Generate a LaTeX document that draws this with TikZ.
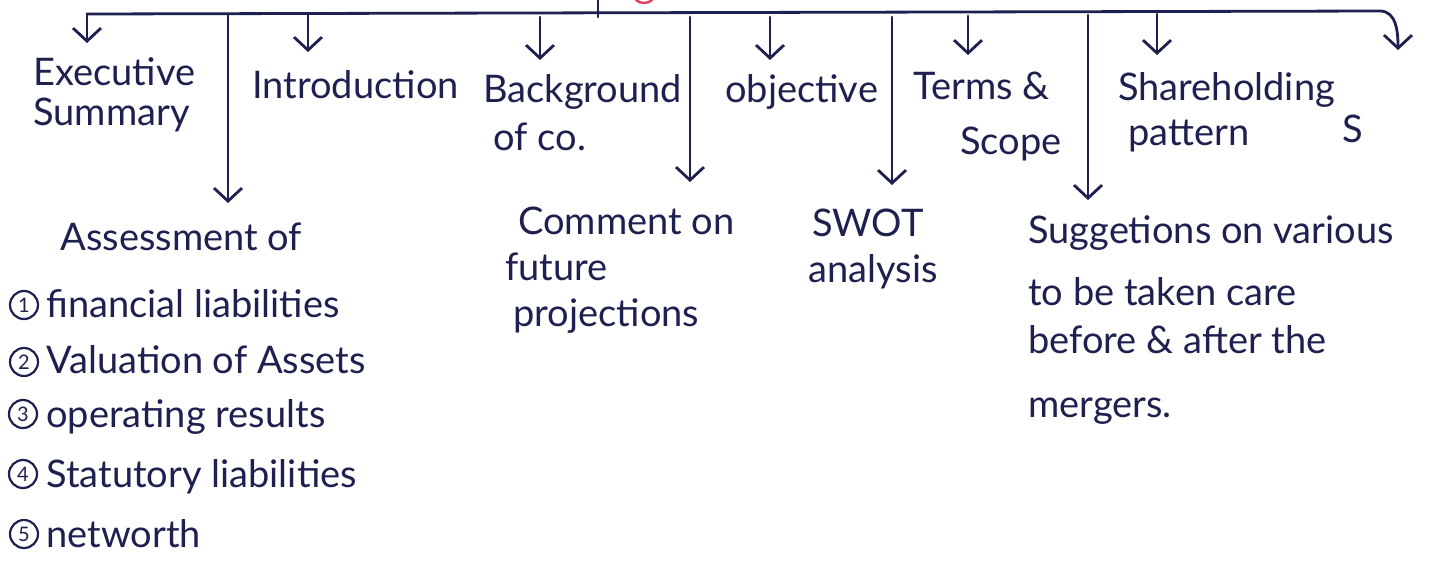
\documentclass[tikz,border=0pt]{standalone}
\usepackage{fontspec}
\setmainfont{Lato}
\usetikzlibrary{arrows.meta}
\definecolor{ink}{HTML}{1E2050}
\definecolor{redink}{HTML}{E0405A}
\begin{document}
\begin{tikzpicture}[x=0.5pt,y=-0.5pt,
  inkline/.style={draw=ink,line width=1.4pt,line cap=round,line join=round},
  arr/.style={inkline,-{Straight Barb[length=6.5pt,width=14pt]}},
  lbl/.style={anchor=north west,inner sep=0pt,align=left,text=ink,font=\fontsize{19}{23}\selectfont},
  num/.style={draw=ink,circle,line width=1.1pt,minimum size=14pt,inner sep=0pt,text=ink,font=\fontsize{10}{11}\selectfont}
]
\fill[white] (0,0) rectangle (1455,579);
\useasboundingbox (0,0) rectangle (1455,579);

% labels
\node[lbl] (exec) at (33,57) {Executive\\[-3pt]Summary};
\node[lbl] (intro) at (252,70) {Introduction};
\node[lbl] (bg) at (483,74) {Background\\[1pt]\hspace*{5pt}of co.};
\node[lbl] (obj) at (725,74) {objective};
\node[lbl] (terms) at (913,72) {Terms \&\\[4.5pt]\hspace*{23.5pt}Scope};
\node[lbl] (share) at (1118,72) {Shareholding\\[-0.5pt]\hspace*{5pt}pattern};
\node[lbl,anchor=base west] (s) at (1342,142) {S};
\node[lbl] (assess) at (46,222) {\hspace*{7pt}Assessment of\\[10.5pt]financial liabilities\\[5pt]Valuation of Assets\\[4pt]operating results\\[7pt]Statutory liabilities\\[7pt]networth};
\node[lbl] (comment) at (505,207) {\hspace*{6.5pt}Comment on\\future\\\hspace*{4pt}projections};
\node[lbl] (swot) at (808,209) {\hspace*{2pt}SWOT\\analysis};
\node[lbl] (sugg) at (1028,215) {Suggetions on various\\[8pt]to be taken care\\[1pt]before \& after the\\[9pt]mergers.};

% circled numbers
\node[num] (c1) at (24,305) {1};
\node[num] (c2) at (24,362) {2};
\node[num] (c3) at (23,414) {3};
\node[num] (c4) at (23,474) {4};
\node[num] (c5) at (24,534) {5};

% bus
\coordinate (busL) at (87,14);
\coordinate (busR) at (1380,11);
\coordinate (endR) at (1398,50);
\coordinate (stemT) at (598,0);
\coordinate (stemB) at (598,17);
\coordinate (t2) at (228,15);
\coordinate (t3) at (308,15);
\coordinate (t4) at (540,17);
\coordinate (t5) at (690,17);
\coordinate (t6) at (770,17);
\coordinate (t7) at (892,17);
\coordinate (t8) at (968,16);
\coordinate (t9) at (1088,15);
\coordinate (t10) at (1157,14);

\draw[arr] (busL) -- (busR) to[out=0,in=90] (endR);
\draw[inkline] (stemT) -- (stemB);
\draw[redink,line width=1.2pt,line cap=round] (636,0) .. controls (640,4) and (648,4) .. (652,0);

% short arrows
\draw[arr,shorten >=7pt] (busL) -- (busL |- exec.north);
\draw[arr,shorten >=9pt] (t3) -- (t3 |- intro.north);
\draw[arr,shorten >=7pt] (t4) -- (t4 |- bg.north);
\draw[arr,shorten >=7pt] (t6) -- (t6 |- obj.north);
\draw[arr,shorten >=8.5pt] (t8) -- (t8 |- terms.north);
\draw[arr,shorten >=8.5pt] (t10) -- (t10 |- share.north);

% long arrows
\draw[arr,shorten >=9.5pt] (t2) -- (t2 |- assess.north);
\draw[arr,shorten >=12.5pt] (t5) -- (t5 |- comment.north);
\draw[arr,shorten >=12pt] (t7) -- (t7 |- swot.north);
\draw[arr,shorten >=7.5pt] (t9) -- (t9 |- sugg.north);
\end{tikzpicture}
\end{document}
